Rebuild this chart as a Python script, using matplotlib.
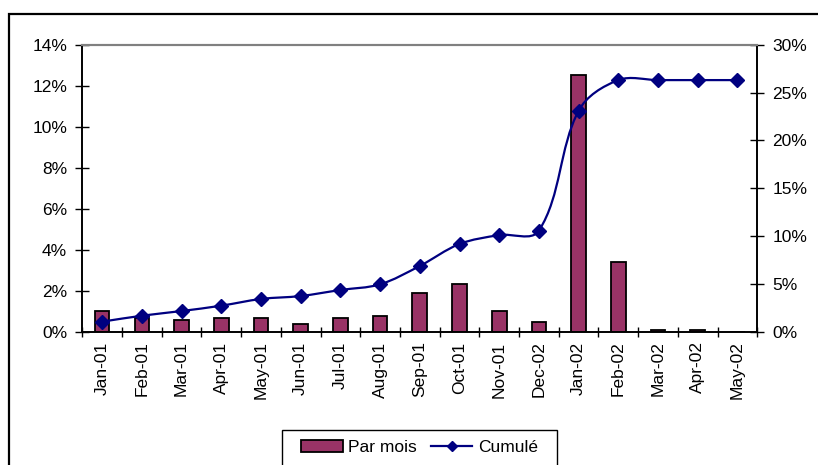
import matplotlib
matplotlib.use("Agg")
import matplotlib.pyplot as plt
from matplotlib.path import Path
from matplotlib.patches import PathPatch, Rectangle, Patch
from matplotlib.lines import Line2D
from matplotlib.ticker import FuncFormatter, MultipleLocator
import numpy as np

months = ['Jan-01', 'Feb-01', 'Mar-01', 'Apr-01', 'May-01', 'Jun-01', 'Jul-01',
          'Aug-01', 'Sep-01', 'Oct-01', 'Nov-01', 'Dec-02', 'Jan-02', 'Feb-02',
          'Mar-02', 'Apr-02', 'May-02']
par_mois = [1.02, 0.65, 0.57, 0.68, 0.68, 0.39, 0.68, 0.75, 1.87, 2.34, 1.02,
            0.49, 12.52, 3.39, 0.06, 0.06, 0.0]
cumule = [1.05, 1.67, 2.16, 2.72, 3.42, 3.73, 4.36, 4.95, 6.87, 9.17, 10.1,
          10.56, 23.1, 26.3, 26.3, 26.3, 26.3]

plt.rcParams['font.family'] = ['Liberation Sans', 'DejaVu Sans']
FS = 12.5

W, H = 818, 465
fig = plt.figure(figsize=(W / 100, H / 100), dpi=100)

# outer chart frame (extends beyond right/bottom edges)
fig.patches.append(Rectangle((8.5 / W, -0.1), 1.2, 1 - 14.5 / H + 0.1,
                             transform=fig.transFigure, fill=False,
                             edgecolor='black', linewidth=1.6))

left, right = 82.3 / W, 757.3 / W
bottom, top = 1 - 331.7 / H, 1 - 44.7 / H
ax = fig.add_axes([left, bottom, right - left, top - bottom])
ax.patch.set_alpha(0)
ax2 = ax.twinx()

x = np.arange(len(months))
bar_color = '#993366'
line_color = '#000080'

ax.bar(x, par_mois, width=0.37, color=bar_color, edgecolor='black',
       linewidth=1.3, zorder=2)
ax.set_xlim(-0.5, len(months) - 0.5)
ax.set_ylim(0, 14)
ax.yaxis.set_major_locator(MultipleLocator(2))
ax.yaxis.set_major_formatter(FuncFormatter(lambda v, p: f"{v:.0f}%"))
ax.set_xticks(np.arange(len(months) + 1) - 0.5, minor=False)
ax.set_xticklabels([])
ax.set_xticks(x, minor=True)
ax.set_xticklabels(months, minor=True, rotation=90, ha='center', va='top',
                   fontsize=FS)
ax.tick_params(axis='x', which='major', direction='inout', length=7.5,
               width=1, color='black')
ax.tick_params(axis='x', which='minor', length=0, pad=7)
ax.tick_params(axis='y', direction='inout', length=10, width=1,
               labelsize=FS, pad=6)

ax2.set_ylim(0, 30)
ax2.yaxis.set_major_locator(MultipleLocator(5))
ax2.yaxis.set_major_formatter(FuncFormatter(lambda v, p: f"{v:.0f}%"))
ax2.tick_params(axis='y', direction='inout', length=10, width=1,
                labelsize=FS, pad=6)

for a in (ax, ax2):
    a.spines['top'].set_color('#808080')
    a.spines['top'].set_linewidth(1.5)
    a.spines['left'].set_linewidth(1.2)
    a.spines['right'].set_linewidth(1.2)
    a.spines['bottom'].set_linewidth(1.2)

# smoothed line: Bezier through the data points, tangents computed in a
# screen-proportional space with chord-length scaled control points
slot_px = (757.3 - 82.3) / len(months)
ypx_per_unit = (331.7 - 44.7) / 30.0
s = ypx_per_unit / slot_px
pts = np.column_stack([x, np.asarray(cumule) * s]).astype(float)
n = len(pts)
tang = []
for i in range(n):
    a_ = pts[i - 1] if i > 0 else pts[i]
    b_ = pts[i + 1] if i < n - 1 else pts[i]
    d = b_ - a_
    nd = np.hypot(*d)
    tang.append(d / nd if nd > 0 else np.zeros(2))
verts = [(pts[0][0], pts[0][1] / s)]
codes = [Path.MOVETO]
for i in range(n - 1):
    p1, p2 = pts[i], pts[i + 1]
    L = np.hypot(*(p2 - p1))
    c1 = p1 + tang[i] * L / 3.0
    c2 = p2 - tang[i + 1] * L / 3.0
    for c in (c1, c2, p2):
        verts.append((c[0], c[1] / s))
    codes += [Path.CURVE4] * 3
ax2.add_patch(PathPatch(Path(verts, codes), facecolor='none',
                        edgecolor=line_color, linewidth=1.6, zorder=3))
ax2.plot(x, cumule, linestyle='none', marker='D', markersize=7,
         color=line_color, zorder=4)

# legend
fig.patches.append(Rectangle((282 / W, -0.1), (557 - 282) / W,
                             (465 - 430) / H + 0.1, transform=fig.transFigure,
                             fill=False, edgecolor='black', linewidth=1.0))
handles = [Patch(facecolor=bar_color, edgecolor='black', linewidth=1.3),
           Line2D([], [], color=line_color, marker='D', markersize=5,
                  linewidth=1.6)]
fig.legend(handles, ['Par mois', 'Cumulé'], loc='center',
           bbox_to_anchor=(419.5 / W, 1 - 447.5 / H), ncol=2, frameon=False,
           fontsize=FS, handlelength=2.4, handletextpad=0.3,
           columnspacing=0.8, borderpad=0.2)

fig.savefig('out.png', dpi=100)
